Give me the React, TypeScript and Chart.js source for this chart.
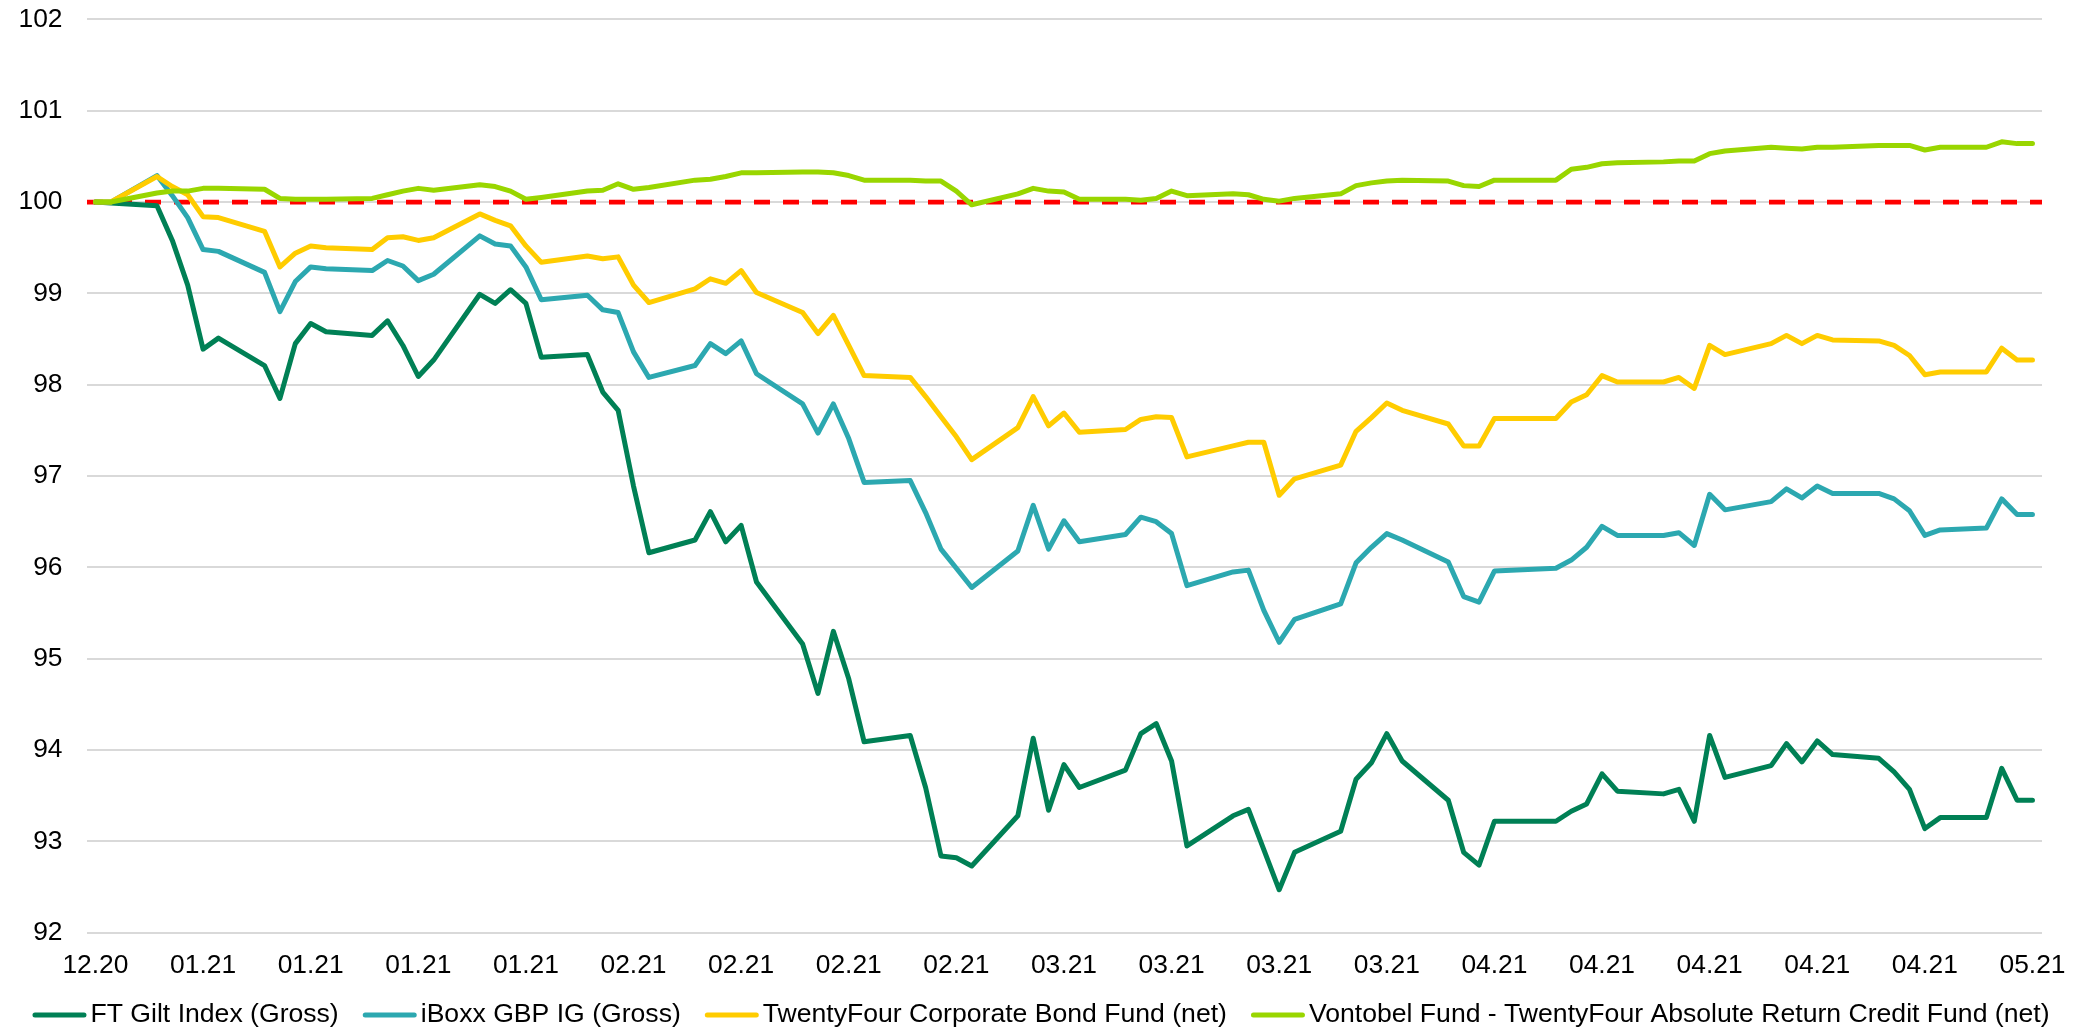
import React, { useEffect, useRef } from 'react';
import { Chart, registerables } from 'chart.js';

Chart.register(...registerables);

// ---------- data ----------
const START_DATE = '2020-12-31';

const DATES = [
  '2020-12-31', '2021-01-01',
  '2021-01-04', '2021-01-05', '2021-01-06', '2021-01-07', '2021-01-08',
  '2021-01-11', '2021-01-12', '2021-01-13', '2021-01-14', '2021-01-15',
  '2021-01-18', '2021-01-19', '2021-01-20', '2021-01-21', '2021-01-22',
  '2021-01-25', '2021-01-26', '2021-01-27', '2021-01-28', '2021-01-29',
  '2021-02-01', '2021-02-02', '2021-02-03', '2021-02-04', '2021-02-05',
  '2021-02-08', '2021-02-09', '2021-02-10', '2021-02-11', '2021-02-12',
  '2021-02-15', '2021-02-16', '2021-02-17', '2021-02-18', '2021-02-19',
  '2021-02-22', '2021-02-23', '2021-02-24', '2021-02-25', '2021-02-26',
  '2021-03-01', '2021-03-02', '2021-03-03', '2021-03-04', '2021-03-05',
  '2021-03-08', '2021-03-09', '2021-03-10', '2021-03-11', '2021-03-12',
  '2021-03-15', '2021-03-16', '2021-03-17', '2021-03-18', '2021-03-19',
  '2021-03-22', '2021-03-23', '2021-03-24', '2021-03-25', '2021-03-26',
  '2021-03-29', '2021-03-30', '2021-03-31', '2021-04-01',
  '2021-04-05',
  '2021-04-06', '2021-04-07', '2021-04-08', '2021-04-09',
  '2021-04-12', '2021-04-13', '2021-04-14', '2021-04-15', '2021-04-16',
  '2021-04-19', '2021-04-20', '2021-04-21', '2021-04-22', '2021-04-23',
  '2021-04-26', '2021-04-27', '2021-04-28', '2021-04-29', '2021-04-30',
  '2021-05-03', '2021-05-04', '2021-05-05', '2021-05-06',
];

const FT_GILT = [
  100.00, 99.99,
  99.96, 99.58, 99.09, 98.39, 98.51,
  98.21, 97.85, 98.45, 98.67, 98.58,
  98.54, 98.70, 98.43, 98.09, 98.27,
  98.99, 98.89, 99.04, 98.89, 98.30,
  98.33, 97.92, 97.72, 96.89, 96.16,
  96.30, 96.61, 96.28, 96.46, 95.84,
  95.16, 94.62, 95.30, 94.78, 94.09,
  94.16, 93.59, 92.84, 92.82, 92.73,
  93.28, 94.13, 93.34, 93.84, 93.59,
  93.78, 94.18, 94.29, 93.88, 92.95,
  93.28, 93.35, 92.91, 92.47, 92.88,
  93.11, 93.68, 93.86, 94.18, 93.88,
  93.45, 92.88, 92.74, 93.22,
  93.22,
  93.33, 93.41, 93.74, 93.55,
  93.52, 93.57, 93.22, 94.16, 93.70,
  93.83, 94.07, 93.87, 94.10, 93.95,
  93.91, 93.76, 93.57, 93.14, 93.26,
  93.26, 93.80, 93.45, 93.45,
];

const IBOXX_GBP_IG = [
  100.00, 100.00,
  100.29, 100.07, 99.83, 99.48, 99.46,
  99.23, 98.80, 99.13, 99.29, 99.27,
  99.25, 99.36, 99.30, 99.14, 99.21,
  99.63, 99.54, 99.52, 99.29, 98.93,
  98.98, 98.82, 98.79, 98.36, 98.08,
  98.21, 98.45, 98.34, 98.48, 98.12,
  97.79, 97.47, 97.79, 97.41, 96.93,
  96.95, 96.60, 96.20, 95.99, 95.78,
  96.18, 96.68, 96.20, 96.51, 96.28,
  96.36, 96.55, 96.50, 96.37, 95.80,
  95.95, 95.97, 95.53, 95.18, 95.43,
  95.60, 96.05, 96.22, 96.37, 96.30,
  96.06, 95.68, 95.62, 95.96,
  95.99,
  96.08, 96.22, 96.45, 96.35,
  96.35, 96.38, 96.24, 96.80, 96.63,
  96.72, 96.86, 96.76, 96.89, 96.81,
  96.81, 96.75, 96.62, 96.35, 96.41,
  96.43, 96.75, 96.58, 96.58,
];

const TWENTYFOUR_CORP = [
  100.00, 100.00,
  100.28, 100.17, 100.08, 99.84, 99.83,
  99.68, 99.29, 99.44, 99.52, 99.50,
  99.48, 99.61, 99.62, 99.58, 99.61,
  99.87, 99.80, 99.74, 99.52, 99.34,
  99.41, 99.38, 99.40, 99.09, 98.90,
  99.05, 99.16, 99.11, 99.25, 99.01,
  98.79, 98.56, 98.76, 98.43, 98.10,
  98.08, 97.87, 97.65, 97.43, 97.18,
  97.53, 97.87, 97.55, 97.69, 97.48,
  97.51, 97.62, 97.65, 97.64, 97.21,
  97.33, 97.37, 97.37, 96.79, 96.97,
  97.12, 97.49, 97.64, 97.80, 97.72,
  97.57, 97.33, 97.33, 97.63,
  97.63,
  97.81, 97.89, 98.10, 98.03,
  98.03, 98.08, 97.96, 98.43, 98.33,
  98.45, 98.54, 98.45, 98.54, 98.49,
  98.48, 98.43, 98.32, 98.11, 98.14,
  98.14, 98.40, 98.27, 98.27,
];

const VONTOBEL_ARC = [
  100.00, 100.00,
  100.10, 100.12, 100.12, 100.15, 100.15,
  100.14, 100.04, 100.03, 100.03, 100.03,
  100.04, 100.08, 100.12, 100.15, 100.13,
  100.19, 100.17, 100.12, 100.03, 100.05,
  100.12, 100.13, 100.20, 100.14, 100.16,
  100.24, 100.25, 100.28, 100.32, 100.32,
  100.33, 100.33, 100.32, 100.29, 100.24,
  100.24, 100.23, 100.23, 100.12, 99.97,
  100.09, 100.15, 100.12, 100.11, 100.03,
  100.03, 100.02, 100.04, 100.12, 100.07,
  100.09, 100.08, 100.03, 100.01, 100.04,
  100.09, 100.18, 100.21, 100.23, 100.24,
  100.23, 100.18, 100.17, 100.24,
  100.24,
  100.36, 100.38, 100.42, 100.43,
  100.44, 100.45, 100.45, 100.53, 100.56,
  100.60, 100.59, 100.58, 100.60, 100.60,
  100.62, 100.62, 100.62, 100.57, 100.60,
  100.60, 100.66, 100.64, 100.64,
];

const SERIES_LABELS = [
  'FT Gilt Index (Gross)',
  'iBoxx GBP IG (Gross)',
  'TwentyFour Corporate Bond Fund (net)',
  'Vontobel Fund - TwentyFour Absolute Return Credit Fund (net)',
];
const SERIES_VALUES = [FT_GILT, IBOXX_GBP_IG, TWENTYFOUR_CORP, VONTOBEL_ARC];
const SERIES_COLORS = ['#008055', '#2CA8B0', '#FFCC00', '#99D600'];

const TICK_LABELS = [
  '12.20', '01.21', '01.21', '01.21', '01.21', '02.21', '02.21', '02.21', '02.21',
  '03.21', '03.21', '03.21', '03.21', '04.21', '04.21', '04.21', '04.21', '04.21', '05.21',
];
const TICK_STEP_DAYS = 7;
const BASELINE = 100;
const Y_MIN = 92;
const Y_MAX = 102;

// ---------- styling ----------
const FONT_FAMILY = '"Liberation Sans", Arial, sans-serif';
const AXIS_FONT_SIZE = 26.4;
const LEGEND_FONT_SIZE = 26.6;
const X_MIN = -0.55;
const X_MAX = 126.62;

const dayOffset = (d: string) => (Date.parse(d) - Date.parse(START_DATE)) / 86400000;

const legendPlugin = {
  id: 'bottomLegend',
  afterDraw(chart: any) {
    const ctx = chart.ctx as CanvasRenderingContext2D;
    ctx.save();
    ctx.font = `${LEGEND_FONT_SIZE}px ${FONT_FAMILY}`;
    ctx.textBaseline = 'middle';
    ctx.textAlign = 'left';
    const items = chart.data.datasets
      .filter((d: any) => d.inLegend)
      .map((d: any) => ({ text: d.label, color: d.borderColor, w: ctx.measureText(d.label).width }));
    const SAMPLE = 54;
    const GAP = 4;
    const SPACING = 24;
    const total = items.reduce((s: number, it: any) => s + SAMPLE + GAP + it.w, 0) + SPACING * (items.length - 1);
    let x = 1041 - total / 2;
    const y = 1015;
    for (const it of items) {
      ctx.strokeStyle = it.color;
      ctx.lineWidth = 5;
      ctx.lineCap = 'round';
      ctx.beginPath();
      ctx.moveTo(x + 2.5, y);
      ctx.lineTo(x + SAMPLE - 2.5, y);
      ctx.stroke();
      x += SAMPLE + GAP;
      ctx.fillStyle = '#000000';
      ctx.fillText(it.text, x, y);
      x += it.w + SPACING;
    }
    ctx.restore();
  },
};

export default function App() {
  const canvasRef = useRef<HTMLCanvasElement | null>(null);

  useEffect(() => {
    const canvas = canvasRef.current;
    if (!canvas) return;
    const xs = DATES.map(dayOffset);
    const datasets: any[] = SERIES_VALUES.map((vals, si) => ({
      label: SERIES_LABELS[si],
      inLegend: true,
      data: vals.map((v, i) => ({ x: xs[i], y: v })),
      borderColor: SERIES_COLORS[si],
      backgroundColor: SERIES_COLORS[si],
      borderWidth: 5,
      pointRadius: 0,
      tension: 0,
      fill: false,
      borderJoinStyle: 'round',
      borderCapStyle: 'round',
      order: SERIES_VALUES.length - si,
    }));
    datasets.push({
      label: 'Baseline',
      inLegend: false,
      data: [{ x: X_MIN, y: BASELINE }, { x: X_MAX, y: BASELINE }],
      borderColor: '#FF0000',
      borderWidth: 4.7,
      borderDash: [16, 13],
      borderCapStyle: 'butt',
      pointRadius: 0,
      fill: false,
      order: 10,
    });

    const font = { family: FONT_FAMILY, size: AXIS_FONT_SIZE };
    const chart = new Chart(canvas, {
      type: 'line',
      data: { datasets },
      options: {
        responsive: false,
        animation: false,
        devicePixelRatio: 1,
        events: [],
        layout: { padding: { top: 19.4, left: 0, right: 48, bottom: 47.3 } },
        plugins: { legend: { display: false }, tooltip: { enabled: false } },
        scales: {
          x: {
            type: 'linear',
            min: X_MIN,
            max: X_MAX,
            grid: { display: false, drawTicks: false },
            border: { display: false },
            ticks: {
              padding: 17.4,
              autoSkip: false,
              maxRotation: 0,
              color: '#000000',
              font,
              callback: (_v: any, i: number) => TICK_LABELS[i],
            },
            afterBuildTicks: (axis: any) => {
              axis.ticks = TICK_LABELS.map((_, i) => ({ value: i * TICK_STEP_DAYS }));
            },
            afterFit: (s: any) => {
              s.height = 50;
              s.paddingTop = 0;
              s.paddingBottom = 0;
            },
          },
          y: {
            min: Y_MIN,
            max: Y_MAX,
            ticks: { stepSize: 1, padding: 24.5, color: '#000000', font },
            grid: { color: '#D9D9D9', lineWidth: 2, drawTicks: false },
            border: { display: false },
            afterFit: (s: any) => {
              s.width = 87;
              s.paddingTop = 0;
              s.paddingBottom = 0;
            },
          },
        },
      } as any,
      plugins: [legendPlugin],
    });
    return () => chart.destroy();
  }, []);

  return (
    <div style={{ position: 'fixed', left: 0, top: 0, width: 2090, height: 1030, background: '#ffffff' }}>
      <canvas ref={canvasRef} width={2090} height={1030} style={{ display: 'block' }} />
    </div>
  );
}
